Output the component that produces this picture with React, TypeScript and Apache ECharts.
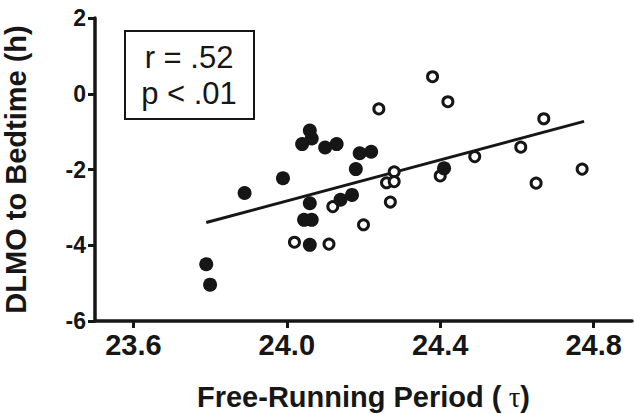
import React, { useEffect, useRef } from "react";
import * as echarts from "echarts";

// Free-running period (tau, h) and DLMO-to-bedtime (h)
const filledX = [23.79, 23.80, 23.89, 23.99, 24.06, 24.065, 24.04, 24.10, 24.13, 24.19, 24.22, 24.18, 24.06, 24.045, 24.065, 24.06, 24.14, 24.17, 24.41];
const filledY = [-4.50, -5.04, -2.62, -2.23, -0.97, -1.18, -1.33, -1.42, -1.33, -1.57, -1.53, -1.99, -2.89, -3.33, -3.33, -3.99, -2.80, -2.67, -1.97];

const openX = [24.12, 24.02, 24.11, 24.20, 24.24, 24.38, 24.42, 24.67, 24.61, 24.49, 24.77, 24.65, 24.40, 24.26, 24.28, 24.28, 24.27];
const openY = [-2.98, -3.92, -3.97, -3.46, -0.40, 0.45, -0.21, -0.66, -1.41, -1.66, -1.99, -2.36, -2.17, -2.35, -2.06, -2.32, -2.86];

const fitX = [23.79, 24.775];
const fitY = [-3.40, -0.73];

const xTicks = [23.6, 24.0, 24.4, 24.8];
const statLines = ["r = .52", "p < .01"];

const INK = "#161616";
const FONT = "'Liberation Sans', Arial, Helvetica, sans-serif";

export default function App() {
  const ref = useRef<HTMLDivElement>(null);

  useEffect(() => {
    if (!ref.current) return;
    const chart = echarts.init(ref.current, null, { renderer: "svg" });
    const filled = filledX.map((x, i) => [x, filledY[i]]);
    const open = openX.map((x, i) => [x, openY[i]]);
    const fit = fitX.map((x, i) => [x, fitY[i]]);

    chart.setOption({
      animation: false,
      backgroundColor: "#ffffff",
      textStyle: { fontFamily: FONT },
      grid: { left: 95, top: 18, right: 2, bottom: 93, containLabel: false, outerBoundsMode: "none" },
      xAxis: {
        type: "value",
        min: 23.5,
        max: 24.9,
        splitLine: { show: false },
        axisLine: { show: true, onZero: false, lineStyle: { color: INK, width: 3.5 } },
        axisTick: { show: true, customValues: xTicks, length: 7, lineStyle: { color: INK, width: 3 } },
        axisLabel: {
          customValues: xTicks,
          formatter: (v: number) => v.toFixed(1),
          fontSize: 29,
          fontWeight: "bold",
          color: INK,
          margin: 9,
          fontFamily: FONT,
        },
        name: "{a|Free-Running Period (}{t| τ}{a|)}",
        nameLocation: "middle",
        nameGap: 61,
        nameTextStyle: {
          rich: {
            a: { fontSize: 29, fontWeight: "bold", color: INK, fontFamily: FONT },
            t: { fontSize: 29, color: INK, fontFamily: "'Liberation Serif', 'DejaVu Serif', serif" },
          },
        },
      },
      yAxis: {
        type: "value",
        min: -6,
        max: 2,
        interval: 2,
        splitLine: { show: false },
        axisLine: { show: true, onZero: false, lineStyle: { color: INK, width: 3.5 } },
        axisTick: { show: true, length: 7, lineStyle: { color: INK, width: 3 } },
        axisLabel: { fontSize: 23, fontWeight: "bold", color: INK, margin: 9, fontFamily: FONT },
        name: "DLMO to Bedtime (h)",
        nameLocation: "middle",
        nameRotate: 90,
        nameGap: 65,
        nameTextStyle: { fontSize: 29, fontWeight: "bold", color: INK, fontFamily: FONT },
      },
      series: [
        {
          type: "line",
          data: fit,
          showSymbol: false,
          symbol: "none",
          lineStyle: { color: INK, width: 3 },
          z: 1,
        },
        {
          type: "scatter",
          data: filled,
          symbol: "circle",
          symbolSize: 14,
          itemStyle: { color: INK, opacity: 1 },
          z: 3,
        },
        {
          type: "scatter",
          data: open,
          symbol: "circle",
          symbolSize: 10,
          itemStyle: { color: "#ffffff", borderColor: INK, borderWidth: 3, opacity: 1 },
          z: 2,
        },
      ],
      graphic: [
        {
          type: "rect",
          shape: { x: 125, y: 31, width: 129, height: 88 },
          style: { fill: "none", stroke: INK, lineWidth: 2 },
        },
        {
          type: "text",
          x: 189,
          y: 57,
          style: { text: statLines[0], font: `31px ${FONT}`, fill: INK, textAlign: "center", textVerticalAlign: "middle" },
        },
        {
          type: "text",
          x: 189,
          y: 93,
          style: { text: statLines[1], font: `31px ${FONT}`, fill: INK, textAlign: "center", textVerticalAlign: "middle" },
        },
      ],
    });
    return () => chart.dispose();
  }, []);

  return (
    <div
      ref={ref}
      style={{ position: "fixed", left: 0, top: 0, width: 634, height: 414, background: "#fff" }}
    />
  );
}
